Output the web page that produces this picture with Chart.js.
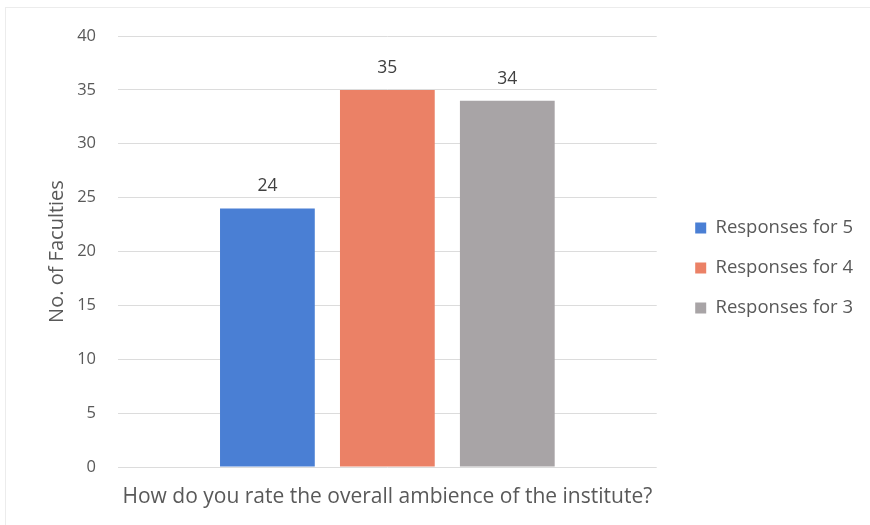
<!DOCTYPE html>
<html>
<head>
<meta charset="utf-8">
<script src="https://cdn.jsdelivr.net/npm/chart.js@4/dist/chart.umd.min.js"></script>
<style>
html,body{margin:0;padding:0;background:#fff;}
#wrap{width:870px;height:525px;position:relative;}
</style>
</head>
<body>
<div id="wrap"><canvas id="c" width="870" height="525"></canvas></div>
<script>
const categories = ['How do you rate the overall ambience of the institute?'];
const seriesNames = ['Responses for 5', 'Responses for 4', 'Responses for 3'];
const responses5 = [24];
const responses4 = [35];
const responses3 = [34];
const yTicks = [0, 5, 10, 15, 20, 25, 30, 35, 40];

const colors = ['#4a7fd4', '#eb8166', '#a8a4a6'];
const FONT = "'Open Sans', 'Liberation Sans', sans-serif";

const valueLabels = {
  id: 'valueLabels',
  afterDatasetsDraw(chart) {
    const ctx = chart.ctx;
    ctx.save();
    ctx.font = '17.5px ' + FONT;
    ctx.fillStyle = '#404040';
    ctx.textAlign = 'center';
    ctx.textBaseline = 'alphabetic';
    chart.data.datasets.forEach((ds, i) => {
      const meta = chart.getDatasetMeta(i);
      meta.data.forEach((bar, j) => {
        ctx.fillText(String(ds.data[j]), bar.x, bar.y - 17);
      });
    });
    ctx.restore();
  }
};

const frame = {
  id: 'frame',
  afterInit(chart) {
    const lg = chart.legend;
    if (lg) {
      const orig = lg.fit;
      lg.fit = function () { orig.call(this); this.width += 14; };
    }
  },
  afterLayout(chart) {
    const lg = chart.legend;
    if (lg) {
      lg.left += 17; lg.right += 17;
      lg.top -= 5; lg.bottom -= 5;
    }
  },
  beforeDraw(chart) {
    const ctx = chart.ctx;
    ctx.save();
    ctx.strokeStyle = '#ececec';
    ctx.lineWidth = 1;
    ctx.strokeRect(5.5, 7.5, 870, 520);
    ctx.restore();
  }
};

new Chart(document.getElementById('c'), {
  type: 'bar',
  data: {
    labels: categories,
    datasets: [
      { label: seriesNames[0], data: responses5, backgroundColor: colors[0] },
      { label: seriesNames[1], data: responses4, backgroundColor: colors[1] },
      { label: seriesNames[2], data: responses3, backgroundColor: colors[2] }
    ]
  },
  options: {
    responsive: false,
    animation: false,
    categoryPercentage: 0.668,
    barPercentage: 0.79,
    layout: { padding: { left: 45, top: 36, right: 10, bottom: 15 } },
    plugins: {
      tooltip: { enabled: false },
      legend: {
        position: 'right',
        align: 'center',
        labels: {
          font: { family: FONT, size: 18.5 },
          color: '#595959',
          boxWidth: 11,
          boxHeight: 11,
          padding: 21.5
        }
      }
    },
    scales: {
      x: {
        grid: { display: false },
        border: { display: false },
        ticks: { display: false },
        afterFit(axis) { axis.height = 43; },
        title: {
          display: true,
          text: categories[0],
          font: { family: FONT, size: 21 },
          color: '#595959',
          padding: { top: 0, bottom: 0 }
        }
      },
      y: {
        min: 0,
        max: 40,
        afterBuildTicks(axis) { axis.ticks = yTicks.map(v => ({ value: v })); },
        afterFit(axis) { axis.width = 73; },
        grid: { color: '#dcdcdc', drawTicks: false },
        border: { display: false },
        ticks: {
          font: { family: FONT, size: 16.5 },
          color: '#595959',
          padding: 22
        },
        title: {
          display: true,
          text: 'No. of Faculties',
          font: { family: FONT, size: 20 },
          color: '#595959',
          padding: { top: 0, bottom: 0 }
        }
      }
    }
  },
  plugins: [frame, valueLabels]
});
</script>
</body>
</html>
